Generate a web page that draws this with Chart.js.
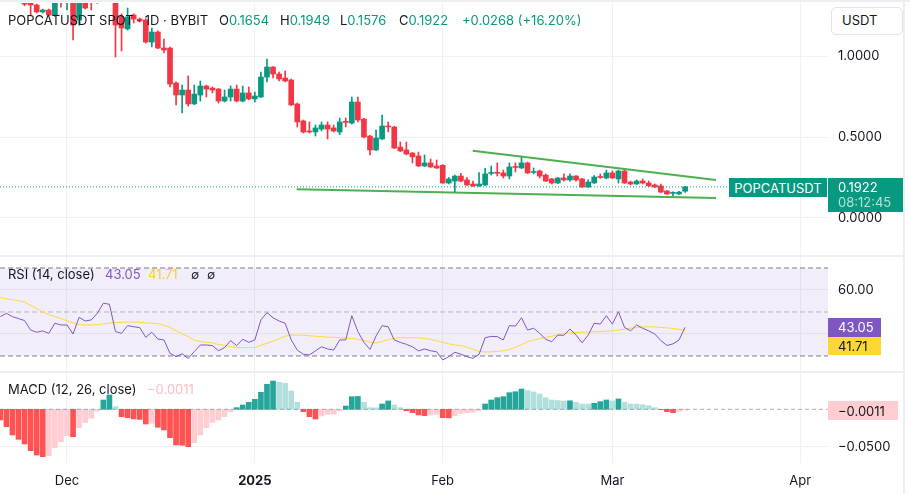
<!DOCTYPE html>
<html>
<head>
<meta charset="utf-8">
<title>POPCATUSDT 1D</title>
<script src="https://cdn.jsdelivr.net/npm/chart.js@4.4.1/dist/chart.umd.min.js"></script>
<style>
  html, body { margin: 0; padding: 0; background: #fff; }
  body { width: 910px; height: 494px; position: relative; overflow: hidden;
         font-family: Inter, "Noto Sans", sans-serif; color: #131722; }
  #wrap { position: absolute; left: 0; top: 3px; width: 903px; height: 491px; }
  .t { position: absolute; white-space: nowrap; font-size: 13px; line-height: 13px; }
  .up { color: #089981; }
  .line { position: absolute; background: #eceef2; }
  .tag { position: absolute; font-size: 13px; display: flex; align-items: center;
         box-sizing: border-box; padding-left: 10px; white-space: nowrap; }
</style>
</head>
<body>
<div id="wrap"><canvas id="chart" width="903" height="491"></canvas></div>

<div class="line" style="left:0;top:0;width:910px;height:2px"></div>
<div class="line" style="left:0;top:255px;width:905px;height:2px"></div>
<div class="line" style="left:0;top:371px;width:905px;height:2px"></div>
<div class="line" style="left:903px;top:0;width:2px;height:494px"></div>

<div class="t" style="left:8px;top:13.9px">POPCATUSDT SPOT · 1D · BYBIT</div>
<div class="t" style="left:219px;top:13.9px">O<span class="up">0.1654</span></div>
<div class="t" style="left:280px;top:13.9px">H<span class="up">0.1949</span></div>
<div class="t" style="left:340px;top:13.9px">L<span class="up">0.1576</span></div>
<div class="t" style="left:399px;top:13.9px">C<span class="up">0.1922</span></div>
<div class="t up" style="left:462px;top:13.9px">+0.0268 (+16.20%)</div>

<div class="t" style="left:8px;top:267.8px">RSI (14, close)</div>
<div class="t" style="left:105px;top:267.8px;color:#7e57c2">43.05</div>
<div class="t" style="left:148px;top:267.8px;color:#f7cf2f">41.71</div>
<div class="t" style="left:191px;top:267.8px;font-size:12px">∅</div>
<div class="t" style="left:207px;top:267.8px;font-size:12px">∅</div>

<div class="t" style="left:8px;top:382.8px">MACD (12, 26, close)</div>
<div class="t" style="left:147px;top:382.8px;color:#ffbcc3">−0.0011</div>

<div style="position:absolute;left:831px;top:7px;width:72px;height:28px;border:1px solid #e0e3eb;border-radius:5px;box-sizing:border-box;background:#fff"></div>
<div class="t" style="left:842px;top:14.2px">USDT</div>

<div class="tag" style="left:729px;top:178px;width:98px;height:19px;background:#089981;color:#fff;justify-content:center;padding:0">POPCATUSDT</div>
<div style="position:absolute;left:828px;top:178px;width:75px;height:34px;background:#089981"></div>
<div class="t" style="left:838px;top:180.9px;color:#fff">0.1922</div>
<div class="t" style="left:838px;top:195.5px;color:rgba(255,255,255,0.7)">08:12:45</div>

<div class="tag" style="left:828px;top:318px;width:53px;height:18.5px;background:#7e57c2;color:#fff">43.05</div>
<div class="tag" style="left:828px;top:336.5px;width:53px;height:18.5px;background:#fdd835">41.71</div>
<div class="tag" style="left:828px;top:401px;width:70px;height:19px;background:#ffcdd2">−0.0011</div>

<script>
// daily candles, 20 Nov 2024 .. 13 Mar 2025; x = days since 1 Dec 2024
const startDay = -11;
const open = [
  1.40, 1.44, 1.48, 1.42, 1.36, 1.35, 1.315, 1.272, 1.284, 1.253, 1.35,
  1.34, 1.38, 1.222, 1.36, 1.40, 1.35, 1.40, 1.45, 1.42, 1.241,
  1.167, 1.253, 1.228, 1.222, 1.086, 1.148, 1.049, 1.049, 0.833, 0.759,
  0.790, 0.704, 0.759, 0.815, 0.802, 0.796, 0.722, 0.747, 0.796, 0.722,
  0.772, 0.735, 0.747, 0.870, 0.932, 0.889, 0.864, 0.852, 0.704, 0.599,
  0.537, 0.531, 0.549, 0.574, 0.556, 0.531, 0.597, 0.586, 0.716, 0.611,
  0.506, 0.420, 0.488, 0.568, 0.562, 0.438, 0.420, 0.401, 0.383, 0.321,
  0.340, 0.321, 0.325, 0.216, 0.228, 0.259, 0.235, 0.210, 0.198, 0.204,
  0.275, 0.280, 0.278, 0.259, 0.318, 0.309, 0.340, 0.281, 0.290, 0.265,
  0.241, 0.216, 0.247, 0.235, 0.259, 0.241, 0.191, 0.216, 0.256, 0.247,
  0.278, 0.241, 0.290, 0.222, 0.210, 0.228, 0.216, 0.204, 0.198, 0.167,
  0.152, 0.148, 0.1654,
];
const high = [
  1.48, 1.52, 1.55, 1.47, 1.40, 1.37, 1.32, 1.29, 1.29, 1.37, 1.38,
  1.42, 1.42, 1.40, 1.40, 1.42, 1.45, 1.50, 1.52, 1.47, 1.26,
  1.296, 1.26, 1.235, 1.23, 1.173, 1.155, 1.105, 1.055, 0.840, 0.821,
  0.877, 0.821, 0.846, 0.820, 0.809, 0.800, 0.790, 0.815, 0.821, 0.815,
  0.809, 0.778, 0.901, 0.981, 0.935, 0.901, 0.907, 0.858, 0.710, 0.605,
  0.593, 0.574, 0.593, 0.593, 0.574, 0.617, 0.617, 0.747, 0.747, 0.615,
  0.510, 0.543, 0.636, 0.593, 0.566, 0.469, 0.469, 0.405, 0.407, 0.389,
  0.364, 0.358, 0.330, 0.250, 0.265, 0.275, 0.249, 0.228, 0.280, 0.307,
  0.321, 0.340, 0.296, 0.340, 0.340, 0.377, 0.345, 0.309, 0.296, 0.272,
  0.245, 0.250, 0.272, 0.272, 0.262, 0.245, 0.235, 0.262, 0.272, 0.296,
  0.290, 0.295, 0.296, 0.228, 0.235, 0.241, 0.228, 0.210, 0.210, 0.170,
  0.162, 0.165, 0.1949,
];
const low = [
  1.36, 1.38, 1.40, 1.35, 1.31, 1.247, 1.265, 1.265, 1.247, 1.245, 1.302,
  1.284, 1.099, 1.191, 1.29, 1.284, 1.325, 1.36, 1.37, 0.994, 1.031,
  1.16, 1.204, 1.21, 1.080, 1.056, 1.045, 1.019, 0.809, 0.698, 0.648,
  0.691, 0.700, 0.722, 0.747, 0.772, 0.710, 0.716, 0.722, 0.716, 0.716,
  0.730, 0.716, 0.745, 0.840, 0.864, 0.846, 0.840, 0.695, 0.562, 0.525,
  0.525, 0.506, 0.537, 0.488, 0.531, 0.515, 0.562, 0.580, 0.593, 0.494,
  0.389, 0.415, 0.485, 0.531, 0.428, 0.410, 0.390, 0.340, 0.318, 0.318,
  0.312, 0.305, 0.214, 0.210, 0.160, 0.225, 0.200, 0.195, 0.195, 0.200,
  0.265, 0.259, 0.247, 0.241, 0.284, 0.305, 0.275, 0.272, 0.247, 0.225,
  0.210, 0.213, 0.228, 0.228, 0.228, 0.188, 0.188, 0.213, 0.245, 0.241,
  0.244, 0.216, 0.213, 0.204, 0.207, 0.210, 0.195, 0.188, 0.157, 0.145,
  0.136, 0.145, 0.1576,
];
const close = [
  1.44, 1.48, 1.42, 1.38, 1.32, 1.315, 1.272, 1.284, 1.253, 1.35, 1.34,
  1.38, 1.191, 1.35, 1.296, 1.35, 1.40, 1.45, 1.42, 1.191, 1.173,
  1.241, 1.228, 1.216, 1.086, 1.148, 1.049, 1.037, 0.827, 0.759, 0.790,
  0.704, 0.765, 0.815, 0.796, 0.790, 0.722, 0.747, 0.796, 0.722, 0.772,
  0.735, 0.753, 0.870, 0.932, 0.889, 0.858, 0.846, 0.698, 0.593, 0.531,
  0.531, 0.556, 0.574, 0.549, 0.537, 0.593, 0.590, 0.716, 0.605, 0.500,
  0.420, 0.494, 0.568, 0.562, 0.432, 0.414, 0.395, 0.377, 0.321, 0.340,
  0.315, 0.309, 0.216, 0.241, 0.259, 0.228, 0.204, 0.198, 0.210, 0.272,
  0.280, 0.276, 0.259, 0.315, 0.312, 0.340, 0.278, 0.287, 0.259, 0.228,
  0.216, 0.247, 0.235, 0.259, 0.235, 0.191, 0.222, 0.253, 0.250, 0.278,
  0.247, 0.290, 0.216, 0.210, 0.228, 0.216, 0.198, 0.191, 0.160, 0.148,
  0.155, 0.160, 0.1922,
];
const rsi = [
  47.9, 49.4, 47.9, 47.0, 46.1, 41.8, 40.8, 41.4, 40.3, 44.9, 44.1,
  44.1, 40.0, 47.6, 45.9, 46.4, 49.4, 54.0, 53.5, 41.1, 40.3,
  43.8, 43.3, 42.9, 38.5, 40.8, 37.7, 37.3, 31.2, 29.7, 31.0,
  28.9, 32.0, 35.0, 35.0, 34.7, 32.4, 33.8, 37.0, 34.7, 37.6,
  36.2, 37.3, 46.4, 49.7, 47.4, 45.9, 44.9, 37.3, 32.7, 30.8,
  30.5, 32.3, 34.2, 33.2, 32.7, 37.3, 37.3, 48.3, 41.1, 36.2,
  33.0, 39.1, 43.8, 43.3, 37.3, 36.2, 35.3, 34.2, 32.3, 33.2,
  32.4, 31.9, 28.2, 29.7, 31.7, 30.8, 29.7, 28.9, 30.8, 38.3,
  38.9, 38.8, 37.3, 43.8, 43.6, 47.4, 41.8, 42.6, 40.3, 37.6,
  36.5, 39.5, 39.4, 42.3, 39.5, 36.0, 39.5, 44.9, 44.5, 48.3,
  44.5, 50.1, 43.0, 41.4, 44.1, 42.6, 41.4, 40.0, 37.0, 34.8,
  35.5, 37.3, 43.05,
];
const rsiMa = [
  56.5, 56.0, 55.6, 55.1, 54.5, 53.0, 51.5, 50.0, 48.9, 47.9, 47.0,
  46.0, 45.0, 44.3, 44.1, 44.1, 44.2, 44.6, 45.0, 45.2, 45.3,
  45.5, 45.5, 45.3, 45.0, 44.9, 44.7, 44.0, 43.0, 41.5, 40.0,
  38.8, 37.2, 36.6, 36.3, 36.0, 35.2, 34.9, 34.4, 33.8, 33.8,
  33.8, 33.9, 34.8, 35.8, 36.8, 37.8, 39.0, 39.5, 39.5, 39.4,
  39.2, 39.0, 38.8, 38.6, 38.5, 38.3, 38.1, 38.0, 37.6, 37.1,
  36.3, 35.9, 36.6, 37.4, 38.1, 38.3, 38.3, 38.3, 38.2, 38.0,
  37.6, 36.9, 36.2, 35.5, 35.0, 34.7, 34.0, 33.1, 32.1, 31.8,
  31.9, 32.1, 32.4, 33.0, 34.0, 35.2, 36.5, 37.2, 37.9, 38.4,
  39.0, 39.6, 40.3, 40.5, 40.7, 40.8, 40.9, 41.0, 41.1, 41.3,
  41.4, 41.8, 42.2, 42.6, 42.9, 43.2, 43.3, 43.2, 43.0, 42.8,
  42.5, 42.1, 41.71,
];
const macdHist = [
  -0.0143, -0.0233, -0.0344, -0.0402, -0.0465, -0.0554, -0.0613, -0.0635, -0.0622, -0.0514, -0.0434,
  -0.0353, -0.0367, -0.0246, -0.0179, -0.0121, -0.0023, 0.0125, 0.0192, 0.0035, -0.0099,
  -0.0112, -0.0130, -0.0135, -0.0197, -0.0188, -0.0241, -0.0277, -0.0380, -0.0478, -0.0482,
  -0.0501, -0.0447, -0.0344, -0.0246, -0.0175, -0.0143, -0.0099, -0.0031, 0.0022, 0.0058,
  0.0094, 0.0134, 0.0228, 0.0335, 0.0379, 0.0362, 0.0348, 0.0245, 0.0094, -0.0031,
  -0.0099, -0.0130, -0.0090, -0.0067, -0.0065, -0.0018, 0.0044, 0.0169, 0.0172, 0.0094,
  0.0022, 0.0020, 0.0071, 0.0112, 0.0058, 0.0022, -0.0018, -0.0045, -0.0076, -0.0085,
  -0.0076, -0.0067, -0.0112, -0.0115, -0.0085, -0.0054, -0.0045, -0.0040, -0.0018, 0.0071,
  0.0125, 0.0156, 0.0169, 0.0223, 0.0236, 0.0272, 0.0250, 0.0233, 0.0205, 0.0156,
  0.0125, 0.0118, 0.0110, 0.0114, 0.0094, 0.0071, 0.0069, 0.0080, 0.0103, 0.0125,
  0.0112, 0.0139, 0.0094, 0.0071, 0.0069, 0.0062, 0.0049, 0.0022, -0.0004, -0.0031,
  -0.0045, -0.0027, -0.0011,
];
const tickDays = [0, 31, 62, 90, 121];
const tickLabels = ["Dec", "2025", "Feb", "Mar", "Apr"];
const priceTicks = [0, 0.5, 1];
const rsiTicks = [40, 60];
const macdTicks = [-0.05];
const rsiLevels = [70, 50, 30];
const lastClose = 0.1922;
// drawn trendlines: [day, price]
const upperTrend = [[66.95, 0.4154], [107.1, 0.2346]];
const lowerTrend = [[37.9, 0.1772], [107.1, 0.1235]];

const xMin = -11.056, xMax = 125.58;
const up = "#089981", down = "#f23645";
const grid = "#f0f1f4";
const FONT = 'Inter, "Noto Sans", sans-serif';
Chart.defaults.font.family = FONT;
Chart.defaults.font.size = 13;
Chart.defaults.color = "#131722";

const days = open.map((_, i) => startDay + i);
const pts = (ys) => days.map((d, i) => ({ x: d, y: ys[i] }));
const hline = (v) => [{ x: xMin, y: v }, { x: xMax, y: v }];
const seg = (s) => s.map(([x, y]) => ({ x, y }));
const candleColor = open.map((o, i) => (close[i] >= o ? up : down));
const histColor = macdHist.map((v, i) => {
  const prev = i ? macdHist[i - 1] : 0;
  if (v >= 0) return v >= prev ? "#26a69a" : "#b2dfdb";
  return v < prev ? "#ff5252" : "#ffcdd2";
});

function paneAxis(weight, min, max, ticks, fmt) {
  return {
    position: "right", stack: "panes", stackWeight: weight, min, max,
    afterBuildTicks: (s) => { s.ticks = ticks.map((v) => ({ value: v })); },
    afterFit: (s) => { s.width = 75; s.paddingTop = 0; s.paddingBottom = 0; },
    ticks: { callback: fmt, padding: 10, color: "#131722" },
    grid: { color: grid, drawTicks: false },
    border: { display: false },
  };
}

const rsiBand = {
  id: "rsiBand",
  beforeDatasetsDraw(chart) {
    const s = chart.scales.yRsi, a = chart.chartArea, ctx = chart.ctx;
    const top = s.getPixelForValue(rsiLevels[0]);
    const bot = s.getPixelForValue(rsiLevels[2]);
    ctx.save();
    ctx.fillStyle = "rgba(126,87,194,0.1)";
    ctx.fillRect(a.left, top, a.right - a.left, bot - top);
    ctx.restore();
  },
};

const flat = { type: "line", pointRadius: 0, borderWidth: 1 };

new Chart(document.getElementById("chart"), {
  type: "bar",
  data: {
    datasets: [
      { ...flat, data: seg(upperTrend), borderColor: "#4caf50", borderWidth: 2, yAxisID: "y", order: 0 },
      { ...flat, data: seg(lowerTrend), borderColor: "#4caf50", borderWidth: 2, yAxisID: "y", order: 0 },
      { ...flat, data: hline(lastClose), borderColor: up, borderDash: [1, 2], yAxisID: "y", order: 1 },
      {
        data: days.map((d, i) => ({ x: d, y: [Math.min(open[i], close[i]), Math.max(open[i], close[i])] })),
        backgroundColor: candleColor, barThickness: 5, minBarLength: 1, grouped: false, yAxisID: "y", order: 2,
      },
      {
        data: days.map((d, i) => ({ x: d, y: [low[i], high[i]] })),
        backgroundColor: candleColor, barThickness: 1, grouped: false, yAxisID: "y", order: 3,
      },
      { ...flat, data: pts(rsi), borderColor: "#7e57c2", yAxisID: "yRsi", order: 0 },
      { ...flat, data: pts(rsiMa), borderColor: "#fdd835", yAxisID: "yRsi", order: 1 },
      { ...flat, data: hline(rsiLevels[0]), borderColor: "#787b86", borderDash: [5, 3], yAxisID: "yRsi", order: 2 },
      { ...flat, data: hline(rsiLevels[1]), borderColor: "rgba(120,123,134,0.5)", borderDash: [5, 3], yAxisID: "yRsi", order: 2 },
      { ...flat, data: hline(rsiLevels[2]), borderColor: "#787b86", borderDash: [5, 3], yAxisID: "yRsi", order: 2 },
      { ...flat, data: hline(0), borderColor: "rgba(120,123,134,0.6)", borderDash: [4, 3], yAxisID: "yMacd", order: 0 },
      { data: pts(macdHist), backgroundColor: histColor, barThickness: 5, grouped: false, yAxisID: "yMacd", order: 1 },
    ],
  },
  options: {
    responsive: false,
    animation: false,
    events: [],
    layout: { padding: 0 },
    plugins: { legend: { display: false }, tooltip: { enabled: false } },
    scales: {
      x: {
        type: "linear", min: xMin, max: xMax, offset: false,
        afterBuildTicks: (s) => { s.ticks = tickDays.map((v) => ({ value: v })); },
        afterFit: (s) => { s.height = 31; s.paddingLeft = 0; s.paddingRight = 0; },
        ticks: {
          autoSkip: false, maxRotation: 0, padding: 10, color: "#131722",
          callback: (v) => tickLabels[tickDays.indexOf(v)],
          font: (ctx) => ({ family: FONT, size: 13, weight: ctx.tick && ctx.tick.value === 31 ? "bold" : "normal" }),
        },
        grid: { color: grid, drawTicks: false, offset: false },
        border: { display: false },
      },
      y: paneAxis(253, -0.2346, 1.3272, priceTicks, (v) => v.toFixed(4)),
      yRsi: paneAxis(115, 23.18, 75.45, rsiTicks, (v) => v.toFixed(2)),
      yMacd: paneAxis(92, -0.07198, 0.05134, macdTicks, (v) => (v < 0 ? "\u2212" : "") + Math.abs(v).toFixed(4)),
    },
  },
  plugins: [rsiBand],
});
</script>
</body>
</html>
